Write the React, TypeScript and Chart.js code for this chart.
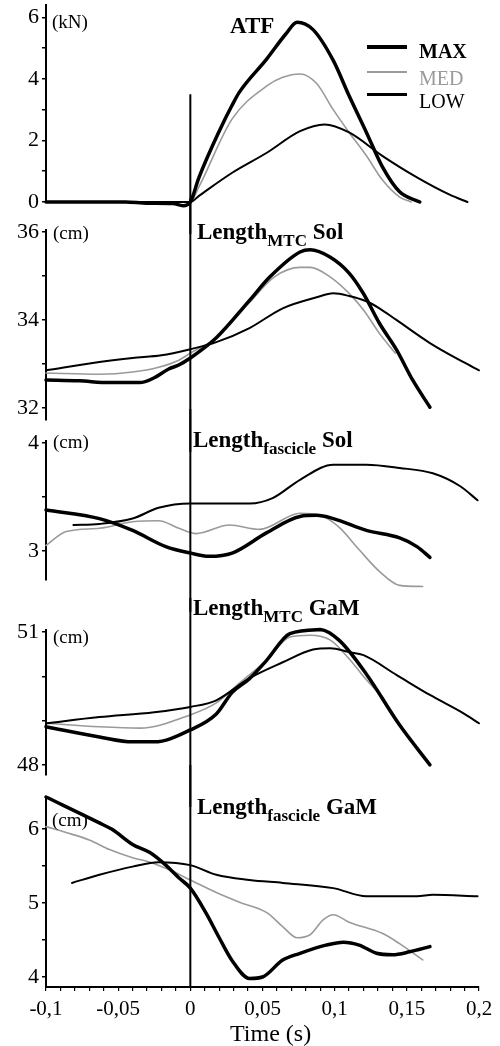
import React, { useEffect, useRef } from 'react';
import { Chart, registerables } from 'chart.js';

Chart.register(...registerables);

const FONT = "'Liberation Serif', 'Times New Roman', serif";

// ---------- shared x axis ----------
const xMin = -0.1;
const xMax = 0.2;
const xLabelValues = [-0.1, -0.05, 0, 0.05, 0.1, 0.15, 0.2];
const xLabelTexts = ['-0,1', '-0,05', '0', '0,05', '0,1', '0,15', '0,2'];

// ---------- ATF (kN) ----------
const atfMaxT = [-0.1, -0.045, -0.03, -0.012, -0.005, 0, 0.006, 0.02, 0.029, 0.034, 0.053, 0.066, 0.074, 0.085, 0.099, 0.11, 0.122, 0.133, 0.145, 0.159];
const atfMaxV = [0, 0, -0.04, -0.05, -0.12, 0, 0.8, 2.3, 3.15, 3.57, 4.65, 5.45, 5.84, 5.6, 4.6, 3.45, 2.26, 1.15, 0.33, 0];
const atfMedT = [-0.1, 0, 0.006, 0.029, 0.053, 0.064, 0.076, 0.0875, 0.099, 0.11, 0.122, 0.133, 0.145, 0.153];
const atfMedV = [0, 0, 0.5, 2.7, 3.77, 4.05, 4.16, 3.85, 3.0, 2.26, 1.5, 0.72, 0.16, 0];
const atfLowT = [-0.1, 0, 0.006, 0.029, 0.053, 0.076, 0.093, 0.11, 0.133, 0.157, 0.18, 0.192];
const atfLowV = [0, 0, 0.2, 0.95, 1.6, 2.3, 2.52, 2.26, 1.5, 0.8, 0.23, 0];

// ---------- Length MTC Sol (cm) ----------
const mtcSolMaxT = [-0.1, -0.077, -0.056, -0.035, -0.025, -0.015, -0.008, 0, 0.018, 0.041, 0.055, 0.076, 0.083, 0.097, 0.11, 0.12, 0.131, 0.143, 0.154, 0.166];
const mtcSolMaxV = [32.64, 32.62, 32.58, 32.58, 32.69, 32.89, 32.98, 33.14, 33.6, 34.45, 34.98, 35.55, 35.6, 35.43, 35.07, 34.6, 33.93, 33.32, 32.64, 32.02];
const mtcSolMedT = [-0.1, -0.063, -0.04, -0.022, -0.008, 0, 0.018, 0.041, 0.058, 0.076, 0.083, 0.097, 0.11, 0.12, 0.131, 0.142];
const mtcSolMedV = [32.8, 32.77, 32.82, 32.93, 33.09, 33.25, 33.6, 34.4, 34.98, 35.2, 35.2, 34.98, 34.61, 34.23, 33.7, 33.25];
const mtcSolLowT = [-0.1, -0.063, -0.04, -0.02, 0, 0.018, 0.041, 0.064, 0.0875, 0.099, 0.11, 0.122, 0.131, 0.143, 0.166, 0.189, 0.2];
const mtcSolLowV = [32.86, 33.05, 33.14, 33.2, 33.34, 33.5, 33.82, 34.27, 34.52, 34.61, 34.55, 34.43, 34.27, 34.0, 33.48, 33.05, 32.86];

// ---------- Length fascicle Sol (cm) ----------
const fasSolMaxT = [-0.1, -0.063, -0.04, -0.017, 0, 0.013, 0.029, 0.053, 0.076, 0.0875, 0.099, 0.122, 0.145, 0.157, 0.166];
const fasSolMaxV = [3.38, 3.3, 3.19, 3.04, 2.98, 2.95, 2.98, 3.17, 3.32, 3.33, 3.3, 3.19, 3.12, 3.04, 2.94];
const fasSolMedT = [-0.1, -0.086, -0.063, -0.04, -0.022, -0.008, 0.004, 0.027, 0.048, 0.076, 0.09, 0.103, 0.117, 0.131, 0.145, 0.161];
const fasSolMedV = [3.05, 3.18, 3.21, 3.27, 3.28, 3.21, 3.16, 3.24, 3.2, 3.35, 3.33, 3.22, 3.01, 2.81, 2.68, 2.67];
const fasSolLowT = [-0.081, -0.063, -0.04, -0.022, 0, 0.041, 0.057, 0.076, 0.099, 0.122, 0.145, 0.168, 0.187, 0.199];
const fasSolLowV = [3.24, 3.25, 3.3, 3.4, 3.44, 3.44, 3.49, 3.66, 3.8, 3.8, 3.77, 3.72, 3.6, 3.47];

// ---------- Length MTC GaM (cm) ----------
const mtcGamMaxT = [-0.1, -0.063, -0.04, -0.025, 0, 0.018, 0.029, 0.041, 0.053, 0.069, 0.09, 0.103, 0.122, 0.145, 0.166];
const mtcGamMaxV = [48.86, 48.63, 48.52, 48.52, 48.79, 49.15, 49.64, 49.95, 50.37, 50.97, 51.06, 50.82, 50.05, 48.9, 48.0];
const mtcGamMedT = [-0.1, -0.063, -0.035, 0, 0.018, 0.034, 0.053, 0.069, 0.083, 0.097, 0.11, 0.12, 0.134];
const mtcGamMedV = [48.94, 48.86, 48.83, 49.13, 49.4, 49.85, 50.37, 50.89, 50.93, 50.82, 50.4, 50.0, 49.5];
const mtcGamLowT = [-0.1, -0.063, -0.025, 0, 0.018, 0.041, 0.064, 0.085, 0.097, 0.11, 0.12, 0.143, 0.166, 0.189, 0.2];
const mtcGamLowV = [48.94, 49.08, 49.19, 49.31, 49.46, 49.96, 50.32, 50.61, 50.64, 50.55, 50.48, 50.03, 49.58, 49.17, 48.94];

// ---------- Length fascicle GaM (cm) ----------
const fasGamMaxT = [-0.1, -0.063, -0.054, -0.04, -0.028, -0.017, -0.008, 0, 0.011, 0.02, 0.029, 0.041, 0.05, 0.064, 0.076, 0.094, 0.106, 0.117, 0.129, 0.14, 0.152, 0.166];
const fasGamMaxV = [6.43, 6.08, 5.99, 5.79, 5.68, 5.51, 5.34, 5.2, 4.86, 4.53, 4.22, 3.98, 4.0, 4.23, 4.32, 4.43, 4.47, 4.43, 4.32, 4.3, 4.34, 4.41];
const fasGamMedT = [-0.1, -0.086, -0.07, -0.056, -0.04, -0.028, -0.015, 0, 0.018, 0.034, 0.053, 0.064, 0.074, 0.083, 0.092, 0.099, 0.11, 0.133, 0.145, 0.161];
const fasGamMedV = [6.03, 5.95, 5.85, 5.72, 5.61, 5.55, 5.45, 5.31, 5.14, 5.01, 4.87, 4.68, 4.53, 4.57, 4.77, 4.84, 4.74, 4.59, 4.45, 4.23];
const fasGamLowT = [-0.082, -0.063, -0.04, -0.022, 0, 0.018, 0.041, 0.064, 0.099, 0.122, 0.145, 0.157, 0.168, 0.199];
const fasGamLowV = [5.27, 5.38, 5.49, 5.55, 5.51, 5.38, 5.31, 5.27, 5.2, 5.09, 5.09, 5.09, 5.11, 5.09];

// ---------- y ticks per panel ----------
const atfTicks = [0, 1, 2, 3, 4, 5, 6];
const atfTickLabels = [0, 2, 4, 6];
const mtcSolTicks = [32, 33, 34, 35, 36];
const mtcSolTickLabels = [32, 34, 36];
const fasSolTicks = [3, 3.5, 4];
const fasSolTickLabels = [3, 4];
const mtcGamTicks = [48, 49, 50, 51];
const mtcGamTickLabels = [48, 51];
const fasGamTicks = [4, 4.5, 5, 5.5, 6];
const fasGamTickLabels = [4, 5, 6];

const seriesNames = ['MAX', 'MED', 'LOW'];

const PAD = 32;
const LEFT = 46;
const RIGHT = 479;

type Panel = {
  id: string;
  top: number; // pixel of y max
  bottom: number; // pixel of y min
  min: number;
  max: number;
  ticks: number[];
  tickLabels: number[];
  max_: [number[], number[]];
  med: [number[], number[]];
  low: [number[], number[]];
  lineFrom?: number;
  showX?: boolean;
};

const panels: Panel[] = [
  { id: 'atf', top: 5, bottom: 202, min: 0, max: 6.4, ticks: atfTicks, tickLabels: atfTickLabels, max_: [atfMaxT, atfMaxV], med: [atfMedT, atfMedV], low: [atfLowT, atfLowV], lineFrom: 3.5 },
  { id: 'mtcSol', top: 230, bottom: 420, min: 31.73, max: 36.05, ticks: mtcSolTicks, tickLabels: mtcSolTickLabels, max_: [mtcSolMaxT, mtcSolMaxV], med: [mtcSolMedT, mtcSolMedV], low: [mtcSolLowT, mtcSolLowV] },
  { id: 'fasSol', top: 441, bottom: 580, min: 2.73, max: 4.02, ticks: fasSolTicks, tickLabels: fasSolTickLabels, max_: [fasSolMaxT, fasSolMaxV], med: [fasSolMedT, fasSolMedV], low: [fasSolLowT, fasSolLowV] },
  { id: 'mtcGam', top: 630, bottom: 775, min: 47.77, max: 51.05, ticks: mtcGamTicks, tickLabels: mtcGamTickLabels, max_: [mtcGamMaxT, mtcGamMaxV], med: [mtcGamMedT, mtcGamMedV], low: [mtcGamLowT, mtcGamLowV] },
  { id: 'fasGam', top: 797, bottom: 987, min: 3.865, max: 6.43, ticks: fasGamTicks, tickLabels: fasGamTickLabels, max_: [fasGamMaxT, fasGamMaxV], med: [fasGamMedT, fasGamMedV], low: [fasGamLowT, fasGamLowV], showX: true },
];

const X_AXIS_H = 1046 - 987;

function pts(t: number[], v: number[]) {
  return t.map((x, i) => ({ x, y: v[i] }));
}

function xMinorTicks() {
  const out: number[] = [];
  for (let i = 0; i <= 30; i++) out.push(Math.round((xMin + i * 0.01) * 1000) / 1000);
  return out;
}

function PanelChart({ p }: { p: Panel }) {
  const ref = useRef<HTMLCanvasElement | null>(null);
  const height = p.showX ? p.bottom - p.top + PAD + X_AXIS_H : p.bottom - p.top + 2 * PAD;
  useEffect(() => {
    if (!ref.current) return;
    const zeroLine = {
      id: 'zeroLine',
      afterDraw(chart: any) {
        const ctx = chart.ctx;
        const x = chart.scales.x.getPixelForValue(0);
        const y1 = p.lineFrom != null ? chart.scales.y.getPixelForValue(p.lineFrom) : 0;
        const y2 = p.showX ? chart.chartArea.bottom : height;
        ctx.save();
        ctx.strokeStyle = '#000';
        ctx.lineWidth = 2;
        ctx.beginPath();
        ctx.moveTo(x, y1);
        ctx.lineTo(x, y2);
        ctx.stroke();
        ctx.restore();
      },
    };
    const common = { pointRadius: 0, fill: false, cubicInterpolationMode: 'monotone', clip: false, borderCapStyle: 'round', borderJoinStyle: 'round' };
    const xScale: any = {
      type: 'linear',
      min: xMin,
      max: xMax,
      display: !!p.showX,
      afterBuildTicks: (s: any) => {
        s.ticks = xMinorTicks().map((value) => ({ value }));
      },
      grid: { display: true, drawOnChartArea: false, drawTicks: true, tickLength: 4, color: '#000', lineWidth: 1.2 },
      border: { display: true, color: '#000', width: 2 },
      ticks: {
        autoSkip: false,
        maxRotation: 0,
        padding: 6,
        color: '#000',
        font: { family: FONT, size: 21 },
        callback: (value: any) => {
          const idx = xLabelValues.findIndex((v) => Math.abs(v - Number(value)) < 1e-6);
          return idx >= 0 ? xLabelTexts[idx] : '';
        },
      },
    };
    if (p.showX) {
      xScale.afterFit = (s: any) => {
        s.height = X_AXIS_H;
      };
    }
    const chart = new Chart(ref.current, {
      type: 'line',
      data: {
        datasets: [
          { ...common, label: seriesNames[0], data: pts(p.max_[0], p.max_[1]), borderColor: '#000', borderWidth: 3.5 },
          { ...common, label: seriesNames[2], data: pts(p.low[0], p.low[1]), borderColor: '#000', borderWidth: 2 },
          { ...common, label: seriesNames[1], data: pts(p.med[0], p.med[1]), borderColor: '#9a9a9a', borderWidth: 1.6 },
        ] as any,
      },
      options: {
        responsive: false,
        animation: false,
        events: [],
        layout: { padding: { top: PAD, bottom: p.showX ? 0 : PAD, left: 0, right: 500 - RIGHT } },
        plugins: { legend: { display: false }, tooltip: { enabled: false }, title: { display: false } },
        scales: {
          x: xScale,
          y: {
            type: 'linear',
            min: p.min,
            max: p.max,
            afterBuildTicks: (s: any) => {
              s.ticks = p.ticks.map((value) => ({ value }));
            },
            afterFit: (s: any) => {
              s.width = LEFT;
            },
            grid: { display: true, drawOnChartArea: false, drawTicks: true, tickLength: 4, color: '#000', lineWidth: 1.5 },
            border: { display: true, color: '#000', width: 2 },
            ticks: {
              autoSkip: false,
              padding: 3,
              color: '#000',
              font: { family: FONT, size: 22 },
              callback: (value: any) => (p.tickLabels.some((v) => Math.abs(v - Number(value)) < 1e-6) ? String(value) : ''),
            },
          },
        },
      } as any,
      plugins: [zeroLine],
    });
    return () => chart.destroy();
  }, []);
  return (
    <canvas
      ref={ref}
      width={500}
      height={height}
      style={{ position: 'absolute', left: 0, top: p.top - PAD, width: 500, height }}
    />
  );
}

const TITLE_SIZE = 23;
const SUB_SIZE = 17;

function Title({ left, baseline, main, sub, tail }: { left: number; baseline: number; main: string; sub?: string; tail?: string }) {
  return (
    <div
      style={{
        position: 'absolute',
        left,
        top: baseline - 0.8375 * TITLE_SIZE,
        fontFamily: FONT,
        fontWeight: 'bold',
        fontSize: TITLE_SIZE,
        lineHeight: `${TITLE_SIZE}px`,
        whiteSpace: 'nowrap',
        color: '#000',
      }}
    >
      {main}
      {sub ? <span style={{ fontSize: SUB_SIZE, position: 'relative', top: 7 }}>{sub}</span> : null}
      {tail ? <span>{tail}</span> : null}
    </div>
  );
}

function Txt({ left, baseline, size, text, bold, color }: { left: number; baseline: number; size: number; text: string; bold?: boolean; color?: string }) {
  return (
    <div
      style={{
        position: 'absolute',
        left,
        top: baseline - 0.8375 * size,
        fontFamily: FONT,
        fontWeight: bold ? 'bold' : 'normal',
        fontSize: size,
        lineHeight: `${size}px`,
        whiteSpace: 'nowrap',
        color: color || '#000',
      }}
    >
      {text}
    </div>
  );
}

export default function App() {
  return (
    <div style={{ position: 'absolute', left: 0, top: 0, width: 500, height: 1046, background: '#fff', overflow: 'hidden' }}>
      {panels.map((p) => (
        <PanelChart key={p.id} p={p} />
      ))}
      {/* titles */}
      <Title left={230} baseline={33} main="ATF" />
      <Title left={197} baseline={239} main="Length" sub="MTC" tail=" Sol" />
      <Title left={193} baseline={447} main="Length" sub="fascicle" tail=" Sol" />
      <Title left={193} baseline={615} main="Length" sub="MTC" tail=" GaM" />
      <Title left={197} baseline={814} main="Length" sub="fascicle" tail=" GaM" />
      {/* units */}
      <Txt left={52} baseline={28} size={19} text="(kN)" />
      <Txt left={53} baseline={239} size={19} text="(cm)" />
      <Txt left={53} baseline={448} size={19} text="(cm)" />
      <Txt left={53} baseline={643} size={19} text="(cm)" />
      <Txt left={52} baseline={826} size={19} text="(cm)" />
      {/* legend */}
      <div style={{ position: 'absolute', left: 367, top: 45, width: 40, height: 4, background: '#000' }} />
      <div style={{ position: 'absolute', left: 367, top: 71, width: 40, height: 2, background: '#9a9a9a' }} />
      <div style={{ position: 'absolute', left: 367, top: 93, width: 40, height: 2.5, background: '#000' }} />
      <Txt left={419} baseline={58} size={20} text={seriesNames[0]} bold />
      <Txt left={419} baseline={85} size={20} text={seriesNames[1]} color="#9a9a9a" />
      <Txt left={419} baseline={108} size={20} text={seriesNames[2]} />
      {/* x axis title */}
      <Txt left={230} baseline={1041} size={24} text="Time (s)" />
    </div>
  );
}
